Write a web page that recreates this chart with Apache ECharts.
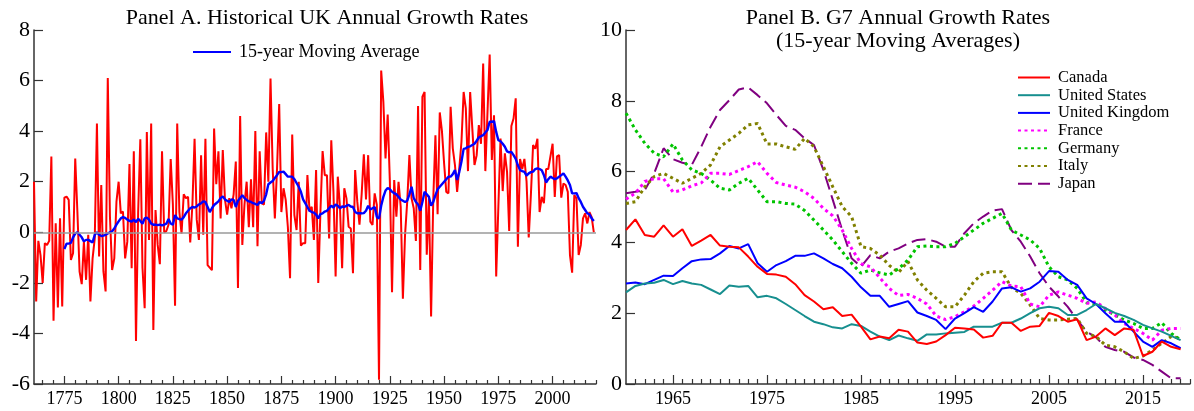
<!DOCTYPE html>
<html><head><meta charset="utf-8">
<script src="https://cdn.jsdelivr.net/npm/echarts@6/dist/echarts.min.js"></script>
<style>html,body{margin:0;padding:0;background:#fff}#c{width:1194px;height:411px}</style>
</head><body><div id="c"></div><script>
// ---------- Panel A data: UK annual growth (%), 1761-2019 ----------
const ukStart = 1761;
const ukGrowth = [
  2.0, -2.74, -0.34, -0.9, -2.0, -0.43, -0.5, -0.34, 3.0, -3.5,
  0.36, -2.97, 0.55, -2.93, 1.37, 1.41, 1.28, -1.09, -0.83, 2.92,
  0.8, -1.55, -2.05, -0.37, -1.88, -0.1, -2.74, -1.03, -0.24, 4.3,
  -0.96, 1.87, -1.55, -2.34, 6.1, 0.62, -1.49, -1.03, 1.21, 2.0,
  0.75, 0.82, -1.03, -0.37, 2.7, -1.42, 3.2, -4.3, 0.8, 3.68,
  -1.4, -3.0, 3.97, -0.3, 4.3, -3.86, 0.88, -0.5, -1.26, 3.2,
  0.0, 0.05, 0.3, 2.9, 1.1, -2.9, 4.3, 0.8, -0.05, 1.5,
  1.35, 1.4, -0.4, 1.1, 3.7, 0.5, -0.3, 3.05, -0.1, 3.7,
  -1.3, -1.4, -1.5, 4.1, 1.9, 3.2, 0.55, 3.25, 1.3, 0.7,
  1.35, 0.95, 1.5, 2.8, -2.2, 4.6, -0.5, 1.1, 2.0, 0.2,
  2.1, 0.2, 4.0, -0.55, 3.2, 1.14, 1.1, 3.95, 2.0, 6.08,
  2.5, 0.55, 2.5, 5.07, 0.8, 1.74, 1.28, 0.2, -1.82, 3.87,
  0.68, 0.09, 2.0, -0.53, -0.43, -0.43, 2.26, 0.82, 1.01, -0.3,
  2.46, -2.0, 0.82, 3.21, 2.26, 2.26, -0.24, 3.64, 1.6, -1.75,
  2.2, 1.01, -1.42, 1.74, 1.34, 0.22, 0.15, -1.62, 2.46, 1.2,
  0.3, 1.5, 3.08, 1.3, 3.05, 0.42, 0.29, 1.54, 1.08, -5.83,
  6.4, 5.16, 2.92, 4.66, 2.0, -2.37, 2.07, 0.62, 2.0, 1.01,
  -2.63, -0.1, 1.21, 3.05, 1.34, 0.95, -0.34, 4.99, -1.49, 5.36,
  5.55, -0.89, 1.34, -3.33, 1.3, 3.84, 0.71, 4.74, 4.0, 2.72,
  1.6, 1.54, 4.96, 3.32, 2.66, 1.6, 2.53, 3.58, 5.55, 4.9,
  2.42, 5.55, 4.1, 2.66, 3.05, 4.24, 3.5, 6.67, 2.42, 4.76,
  7.03, 2.86, 4.63, -1.75, 1.0, 3.71, 1.63, 3.12, 2.39, 0.05,
  4.2, 4.5, 5.3, -0.57, 2.9, 2.5, 2.9, 2.0, -0.2, 1.5,
  3.45, 3.3, 3.7, 0.8, 1.4, 1.15, 2.5, 2.5, 3.0, 3.5,
  1.4, 3.0, 3.05, 1.37, 1.93, 1.87, 1.6, -0.9, -1.6, 1.47,
  1.34, -0.9, -0.5, 0.55, 0.75, 0.35, 0.8, 0.6, 0.0
];
// 15-year moving average, 1775-2019
const maStart = 1775;
const ukMA = [
  -0.66, -0.45, -0.45, -0.42, -0.2, -0.05,
  0.0, -0.1, -0.2, -0.36, -0.3, -0.3, -0.35, -0.4, -0.1, 0.0,
  -0.1, -0.15, -0.13, -0.1, -0.05, 0.0, 0.04, 0.15, 0.3, 0.43,
  0.55, 0.6, 0.57, 0.5, 0.45, 0.42, 0.5, 0.4, 0.53, 0.45,
  0.34, 0.55, 0.58, 0.5, 0.34, 0.3, 0.3, 0.28, 0.3, 0.27,
  0.3, 0.34, 0.52, 0.35, 0.3, 0.68, 0.55, 0.52, 0.5, 0.6,
  0.75, 0.85, 0.95, 1.0, 0.98, 1.02, 1.1, 1.15, 1.22, 1.2,
  1.0, 0.8, 0.95, 1.08, 1.15, 1.22, 1.35, 1.42, 1.3, 1.25,
  1.2, 1.3, 1.28, 1.0, 1.25, 1.35, 1.47, 1.35, 1.28, 1.22,
  1.2, 1.15, 1.12, 1.08, 1.2, 1.15, 1.25, 1.5, 1.9, 1.97,
  2.03, 2.15, 2.26, 2.39, 2.38, 2.4, 2.3, 2.2, 2.2, 2.2,
  2.1, 1.95, 1.8, 1.6, 1.3, 1.15, 1.0, 0.85, 0.8, 0.78,
  0.7, 0.55, 0.72, 0.75, 0.82, 0.85, 0.95, 1.05, 0.98, 1.1,
  1.05, 0.95, 1.02, 1.0, 1.05, 1.08, 1.02, 1.0, 0.8, 0.75,
  0.75, 0.75, 0.76, 0.85, 1.05, 0.9, 0.95, 1.0, 0.6, 0.55,
  1.05, 1.4, 1.65, 1.75, 1.7, 1.6, 1.55, 1.5, 1.4, 1.3,
  1.25, 1.2, 1.25, 1.5, 1.8, 1.35, 1.2, 1.1, 0.85, 1.2,
  1.6, 1.5, 1.4, 1.05, 1.2, 1.47, 1.7, 1.8, 1.9, 2.0,
  2.1, 2.2, 2.2, 2.3, 2.46, 2.07, 2.39, 2.8, 3.3, 3.32,
  3.38, 3.4, 3.45, 3.5, 3.62, 3.75, 3.8, 3.84, 3.95, 4.05,
  4.37, 4.37, 4.4, 3.97, 3.64, 3.6, 3.5, 3.38, 3.2, 3.16,
  3.18, 3.05, 2.9, 2.65, 2.46, 2.42, 2.39, 2.24, 2.33, 2.38,
  2.4, 2.5, 2.53, 2.5, 2.45, 2.26, 1.97, 2.1, 2.2, 2.15,
  2.1, 2.13, 2.2, 2.26, 2.33, 2.2, 2.05, 1.87, 1.54, 1.54,
  1.55, 1.35, 1.2, 1.01, 0.88, 0.75, 0.7, 0.55, 0.45
];
const ukTickLabels = [1775, 1800, 1825, 1850, 1875, 1900, 1925, 1950, 1975, 2000];

// ---------- Panel B data: G7 15-year moving averages, 1960-2019 ----------
const g7Start = 1960;
const canada = [
  4.35, 4.65, 4.21, 4.16, 4.48, 4.16, 4.37, 3.9, 4.05, 4.21,
  3.91, 3.88, 3.86, 3.6, 3.31, 3.11, 3.09, 3.03, 2.82, 2.51,
  2.33, 2.11, 2.17, 1.92, 1.96, 1.62, 1.26, 1.34, 1.29, 1.53,
  1.48, 1.17, 1.13, 1.2, 1.38, 1.59, 1.57, 1.54, 1.31, 1.36,
  1.73, 1.73, 1.5, 1.62, 1.64, 2.01, 1.92, 1.76, 1.83, 1.24,
  1.34, 1.57, 1.38, 1.57, 1.53, 0.79, 0.91, 1.2, 1.05, 0.98
];
const unitedStates = [
  2.59, 2.77, 2.84, 2.86, 2.94, 2.82, 2.91, 2.84, 2.8, 2.67,
  2.54, 2.78, 2.75, 2.77, 2.45, 2.49, 2.42, 2.26, 2.09, 1.92,
  1.76, 1.69, 1.6, 1.57, 1.69, 1.64, 1.48, 1.34, 1.24, 1.37,
  1.29, 1.22, 1.4, 1.4, 1.43, 1.45, 1.47, 1.62, 1.62, 1.62,
  1.73, 1.73, 1.85, 2.0, 2.14, 2.18, 2.14, 1.95, 1.95, 2.09,
  2.26, 2.14, 2.01, 1.92, 1.81, 1.67, 1.57, 1.48, 1.36, 1.24
];
const unitedKingdom = [
  2.84, 2.87, 2.82, 2.94, 3.06, 3.05, 3.27, 3.47, 3.52, 3.53,
  3.69, 3.9, 3.83, 3.95, 3.41, 3.17, 3.36, 3.47, 3.62, 3.62,
  3.69, 3.55, 3.39, 3.27, 3.03, 2.73, 2.49, 2.49, 2.18, 2.26,
  2.34, 2.02, 1.92, 1.81, 1.55, 1.85, 2.0, 2.17, 2.04, 2.33,
  2.7, 2.73, 2.61, 2.7, 2.89, 3.19, 3.17, 2.94, 2.8, 2.42,
  2.26, 2.0, 1.76, 1.76, 1.48, 1.2, 1.05, 1.24, 1.15, 1.01
];
const france = [
  5.22, 5.39, 5.72, 5.8, 5.8, 5.42, 5.48, 5.6, 5.68, 5.95,
  5.95, 5.92, 6.03, 6.14, 6.28, 5.95, 5.69, 5.62, 5.56, 5.43,
  5.24, 4.96, 4.75, 4.35, 3.83, 3.4, 3.31, 3.0, 2.7, 2.5,
  2.53, 2.42, 2.26, 1.92, 1.82, 1.9, 2.04, 2.2, 2.42, 2.65,
  2.89, 2.77, 2.75, 2.26, 2.18, 2.51, 2.6, 2.51, 2.42, 2.28,
  2.32, 2.13, 1.95, 1.71, 1.57, 1.43, 1.24, 1.52, 1.57, 1.57
];
const germany = [
  7.65, 7.18, 6.8, 6.52, 6.42, 6.78, 6.33, 6.05, 5.95, 5.76,
  5.53, 5.48, 5.67, 5.81, 5.48, 5.15, 5.15, 5.1, 5.08, 4.9,
  4.63, 4.35, 4.07, 3.74, 3.41, 3.13, 3.22, 3.14, 3.08, 3.26,
  3.5, 3.88, 3.9, 3.88, 3.88, 3.97, 4.16, 4.35, 4.54, 4.68,
  4.82, 4.35, 4.21, 4.07, 3.83, 3.31, 3.03, 2.94, 2.7, 2.3,
  2.26, 2.09, 1.95, 1.81, 1.71, 1.57, 1.57, 1.73, 1.43, 1.24
];
const italy = [
  5.1, 5.15, 5.57, 5.86, 5.95, 5.81, 5.67, 5.81, 5.95, 6.19,
  6.7, 6.89, 7.08, 7.32, 7.36, 6.78, 6.78, 6.7, 6.63, 6.94,
  6.7, 6.14, 5.57, 5.01, 4.73, 3.88, 3.83, 3.64, 3.35, 3.15,
  3.46, 2.94, 2.65, 2.42, 2.18, 2.18, 2.51, 2.89, 3.13, 3.17,
  3.17, 2.73, 2.56, 2.23, 1.85, 1.81, 1.81, 1.83, 1.85, 1.43,
  1.34, 1.1, 1.05, 0.91, 0.72, 0.79, 0.96, 1.15, 1.34, 1.29
];
const japan = [
  5.39, 5.43, 5.48, 5.95, 6.66, 6.35, 6.25, 6.19, 6.7, 7.27,
  7.74, 8.02, 8.32, 8.38, 8.16, 7.93, 7.6, 7.29, 7.18, 6.94,
  6.75, 6.05, 5.2, 4.35, 3.55, 3.31, 3.64, 3.55, 3.74, 3.83,
  3.97, 4.07, 4.09, 4.02, 3.88, 3.88, 4.26, 4.54, 4.73, 4.9,
  4.94, 4.35, 4.02, 3.6, 3.13, 2.75, 2.47, 2.18, 1.81, 1.48,
  1.32, 1.05, 0.96, 0.91, 0.75, 0.68, 0.54, 0.35, 0.16, 0.16
];
const g7Names = ['Canada', 'United States', 'United Kingdom', 'France', 'Germany', 'Italy', 'Japan'];
const g7TickLabels = [1965, 1975, 1985, 1995, 2005, 2015];

// ---------- chart ----------
const FONT = 'Liberation Serif';
const AX = '#333';
const toPairs = (arr, start) => arr.map((v, i) => [start + i, v]);

const ukMinor = [];
for (let y = 1765; y <= 2020; y += 5) if (y % 25 !== 0) ukMinor.push(y);
const g7Minor = [];
for (let y = 1961; y <= 2020; y++) if (g7TickLabels.indexOf(y) < 0) g7Minor.push(y);

const g7Styles = [
  { color: '#ff0000', width: 2, type: 'solid' },
  { color: '#178f8f', width: 2, type: 'solid' },
  { color: '#0000ff', width: 2, type: 'solid' },
  { color: '#ff00ff', width: 3, type: [3, 3.5] },
  { color: '#00c400', width: 3, type: [3, 3.5] },
  { color: '#808000', width: 3, type: [3, 3.5] },
  { color: '#800080', width: 2, type: [14, 6] }
];
const g7Data = [canada, unitedStates, unitedKingdom, france, germany, italy, japan];

function xAxisPair(grid, min, max, minorVals, majorVals, minorLen, majorLen) {
  return [
    { type: 'value', gridIndex: grid, min: min, max: max, position: 'bottom',
      axisLine: { show: true, onZero: false, lineStyle: { color: AX, width: 1.5 } },
      axisTick: { show: true, inside: true, length: minorLen, customValues: minorVals, lineStyle: { color: AX, width: 1.2 } },
      axisLabel: { show: true, customValues: majorVals, margin: 6, color: '#000', fontFamily: FONT, fontSize: 18,
        formatter: v => String(v) },
      splitLine: { show: false } },
    { type: 'value', gridIndex: grid, min: min, max: max, position: 'bottom',
      axisLine: { show: false, onZero: false },
      axisTick: { show: true, inside: true, length: majorLen, customValues: majorVals, lineStyle: { color: AX, width: 1.2 } },
      axisLabel: { show: false },
      splitLine: { show: false } }
  ];
}
function yAxisOf(grid, min, max) {
  return { type: 'value', gridIndex: grid, min: min, max: max, interval: 2,
    axisLine: { show: true, onZero: false, lineStyle: { color: AX, width: 1.5 } },
    axisTick: { show: true, inside: true, length: 9, lineStyle: { color: AX, width: 1.2 } },
    axisLabel: { color: '#000', fontFamily: FONT, fontSize: 22, margin: 4 },
    splitLine: { show: false } };
}

const series = [
  { name: 'zero', type: 'line', xAxisIndex: 0, yAxisIndex: 0, data: [], z: 1, silent: true,
    markLine: { silent: true, symbol: 'none', label: { show: false },
      lineStyle: { color: '#9a9a9a', width: 1.5, type: 'solid' }, data: [{ yAxis: 0 }] } },
  { name: 'UK annual growth', type: 'line', xAxisIndex: 0, yAxisIndex: 0, z: 2,
    data: toPairs(ukGrowth, ukStart), symbol: 'none',
    lineStyle: { color: '#ff0000', width: 2 }, itemStyle: { color: '#ff0000' } },
  { name: '15-year Moving Average', type: 'line', xAxisIndex: 0, yAxisIndex: 0, z: 3,
    data: toPairs(ukMA, maStart), symbol: 'none',
    lineStyle: { color: '#0000ff', width: 2.4 }, itemStyle: { color: '#0000ff' } }
];
g7Names.forEach((n, i) => {
  series.push({ name: n, type: 'line', xAxisIndex: 2, yAxisIndex: 1, z: 10 - i,
    data: toPairs(g7Data[i], g7Start), symbol: 'none',
    lineStyle: { color: g7Styles[i].color, width: g7Styles[i].width, type: g7Styles[i].type, cap: 'butt' },
    itemStyle: { color: g7Styles[i].color } });
});

const option = {
  animation: false,
  backgroundColor: '#ffffff',
  grid: [
    { left: 34, top: 30, width: 562, height: 354 },
    { left: 626, top: 30, width: 564, height: 354 }
  ],
  xAxis: [].concat(
    xAxisPair(0, 1761, 2020, ukMinor, ukTickLabels, 4, 8),
    xAxisPair(1, 1960, 2020, g7Minor, g7TickLabels, 5, 9)
  ),
  yAxis: [yAxisOf(0, -6, 8), yAxisOf(1, 0, 10)],
  legend: [
    { data: ['15-year Moving Average'], left: 192, top: 43, padding: 0, itemWidth: 38, itemHeight: 14,
      itemStyle: { opacity: 0 },
      textStyle: { fontFamily: FONT, fontSize: 18, color: '#000', padding: [0, 0, 0, 3] } },
    { data: g7Names, orient: 'vertical', left: 1017, top: 69, padding: 0, itemWidth: 32, itemHeight: 10, itemGap: 0.7,
      itemStyle: { opacity: 0 },
      textStyle: { fontFamily: FONT, fontSize: 16.5, lineHeight: 16, color: '#000', padding: [0, 0, 0, 3] } }
  ],
  graphic: [
    { type: 'text', x: 327, y: 7, silent: true,
      style: { text: 'Panel A. Historical UK Annual Growth Rates', font: '22px "Liberation Serif"', fill: '#000', textAlign: 'center' } },
    { type: 'text', x: 898, y: 7, silent: true,
      style: { text: 'Panel B. G7 Annual Growth Rates\n(15-year Moving Averages)', font: '22px "Liberation Serif"', lineHeight: 23, fill: '#000', textAlign: 'center' } }
  ],
  series: series
};
const chart = echarts.init(document.getElementById('c'), null, { renderer: 'canvas' });
chart.setOption(option);
</script></body></html>
